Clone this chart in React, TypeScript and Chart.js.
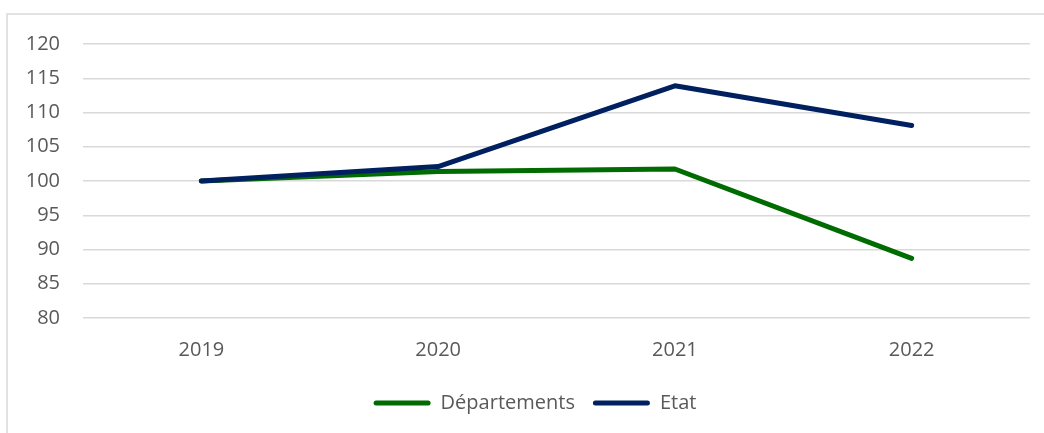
import React, { useEffect, useRef } from "react";
import { Chart, registerables } from "chart.js";

Chart.register(...registerables);

const categories = ["2019", "2020", "2021", "2022"];
const departements = [100, 101.4, 101.75, 88.7];
const etat = [100, 102.1, 113.9, 108.1];
const seriesNames = ["Départements", "Etat"];
const seriesColors = ["#006B00", "#002060"];

const FONT = "'Open Sans', 'Noto Sans', sans-serif";
const TEXT = "#595959";

const borderPlugin = {
  id: "outerBorder",
  beforeDraw(chart: any) {
    const ctx = chart.ctx;
    ctx.save();
    ctx.strokeStyle = "#d9d9d9";
    ctx.lineWidth = 1.5;
    ctx.strokeRect(7, 14, 2000, 2000);
    ctx.restore();
  },
};

const legendShift = {
  id: "legendShift",
  afterLayout(chart: any) {
    const lg = chart.legend;
    if (lg) {
      lg.left += 20;
      lg.right += 20;
    }
  },
};

export default function App() {
  const ref = useRef<HTMLCanvasElement | null>(null);
  useEffect(() => {
    if (!ref.current) return;
    const chart = new Chart(ref.current, {
      type: "line",
      data: {
        labels: categories,
        datasets: [
          {
            label: seriesNames[0],
            data: departements,
            borderColor: seriesColors[0],
            backgroundColor: seriesColors[0],
            borderWidth: 5,
            pointRadius: 0,
            tension: 0,
            borderCapStyle: "round",
            borderJoinStyle: "round",
            order: 1,
          },
          {
            label: seriesNames[1],
            data: etat,
            borderColor: seriesColors[1],
            backgroundColor: seriesColors[1],
            borderWidth: 5,
            pointRadius: 0,
            tension: 0,
            borderCapStyle: "round",
            borderJoinStyle: "round",
            order: 0,
          },
        ],
      },
      options: {
        animation: false,
        responsive: false,
        maintainAspectRatio: false,
        layout: { padding: { left: 0, top: 44, right: 14, bottom: 10 } },
        plugins: {
          tooltip: { enabled: false },
          legend: {
            position: "bottom",
            labels: {
              boxWidth: 57,
              boxHeight: 5,
              useBorderRadius: true,
              borderRadius: 2.5,
              padding: 18,
              color: TEXT,
              font: { family: FONT, size: 20 },
              generateLabels: (c: any) =>
                c.data.datasets.map((ds: any, i: number) => ({
                  text: ds.label,
                  fillStyle: ds.borderColor,
                  strokeStyle: ds.borderColor,
                  lineWidth: 0,
                  hidden: false,
                  datasetIndex: i,
                  borderRadius: 2.5,
                  fontColor: TEXT,
                })),
            },
          },
        },
        scales: {
          x: {
            offset: true,
            grid: { display: false },
            border: { display: false },
            ticks: {
              color: TEXT,
              font: { family: FONT, size: 20 },
              padding: 12,
            },
            afterFit: (s: any) => {
              s.height = 57;
            },
          },
          y: {
            min: 80,
            max: 120,
            grid: { color: "#d9d9d9", lineWidth: 1.5, drawTicks: false },
            border: { display: false },
            ticks: {
              stepSize: 5,
              color: TEXT,
              font: { family: FONT, size: 20 },
              padding: 23,
            },
            afterFit: (s: any) => {
              s.width = 83;
            },
          },
        },
      },
      plugins: [borderPlugin, legendShift],
    });
    return () => chart.destroy();
  }, []);
  return (
    <div style={{ position: "fixed", left: 0, top: 0, width: 1044, height: 433, background: "#fff" }}>
      <canvas ref={ref} width={1044} height={433} style={{ display: "block" }} />
    </div>
  );
}
